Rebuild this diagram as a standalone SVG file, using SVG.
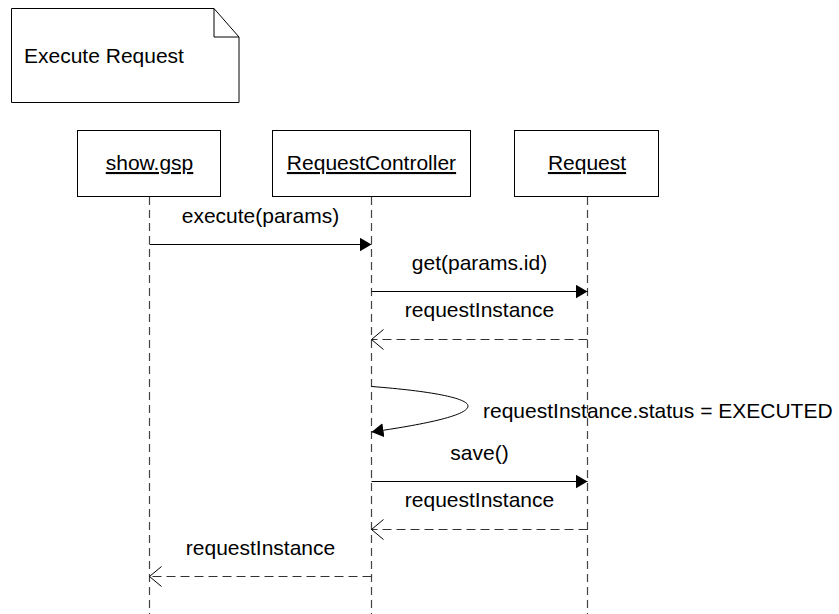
<svg xmlns="http://www.w3.org/2000/svg" width="839" height="614" viewBox="0 0 839 614">
<defs>
<style>
text{font-family:"Liberation Sans",Arial,sans-serif;font-size:21px;fill:#000}
.box{fill:#fff;stroke:#000;stroke-width:1}
.life{stroke:#444;stroke-width:1.2;stroke-dasharray:8,5;fill:none}
.msg{stroke:#000;stroke-width:1;fill:none}
.ret{stroke:#333;stroke-width:1;stroke-dasharray:9,5;fill:none}
.u{text-decoration:underline}
</style>
<marker id="filled" markerUnits="userSpaceOnUse" markerWidth="13" markerHeight="14" refX="12" refY="7" orient="auto" viewBox="0 0 13 14">
<path d="M0,0 L12,7 L0,14 z" fill="#000"/>
</marker>
<marker id="open" markerUnits="userSpaceOnUse" markerWidth="14" markerHeight="22" refX="13" refY="11" orient="auto" viewBox="0 0 14 22">
<path d="M1,1 L13,11 L1,21" fill="none" stroke="#000" stroke-width="1"/>
</marker>
</defs>
<rect width="839" height="614" fill="#fff"/>
<g id="note">
<path d="M11.5,8.5 H214 L239,37 V102.5 H11.5 Z" class="box"/>
<path d="M214,8.5 V37 H239" fill="none" stroke="#000"/>
<text x="24" y="63">Execute Request</text>
</g>
<g id="lifelines">
<line x1="149.5" y1="197" x2="149.5" y2="614" class="life"/>
<line x1="371.5" y1="197" x2="371.5" y2="614" class="life"/>
<line x1="587.5" y1="197" x2="587.5" y2="614" class="life"/>
</g>
<g id="show_gsp">
<rect x="77.5" y="130.5" width="143" height="66" class="box"/>
<text x="149.5" y="170" text-anchor="middle" class="u">show.gsp</text>
</g>
<g id="RequestController">
<rect x="272.5" y="130.5" width="198" height="66" class="box"/>
<text x="371.5" y="170" text-anchor="middle" class="u">RequestController</text>
</g>
<g id="Request">
<rect x="514.5" y="130.5" width="144" height="66" class="box"/>
<text x="587" y="170" text-anchor="middle" class="u">Request</text>
</g>
<g id="connectors">
<line x1="149.5" y1="244.5" x2="371.5" y2="244.5" class="msg" marker-end="url(#filled)"/>
<text x="260.5" y="223" text-anchor="middle">execute(params)</text>
<line x1="371.5" y1="291.5" x2="587.5" y2="291.5" class="msg" marker-end="url(#filled)"/>
<text x="479.5" y="270" text-anchor="middle">get(params.id)</text>
<line x1="587.5" y1="339.5" x2="371.5" y2="339.5" class="ret" marker-end="url(#open)"/>
<text x="479.5" y="317" text-anchor="middle">requestInstance</text>
<path d="M371.5,386.5 C430,391 468,398 468,406 C468,416 420,425 371.5,432" class="msg" marker-end="url(#filled)"/>
<text x="483" y="418">requestInstance.status = EXECUTED</text>
<line x1="371.5" y1="481.5" x2="587.5" y2="481.5" class="msg" marker-end="url(#filled)"/>
<text x="479.5" y="460" text-anchor="middle">save()</text>
<line x1="587.5" y1="529.5" x2="371.5" y2="529.5" class="ret" marker-end="url(#open)"/>
<text x="479.5" y="507" text-anchor="middle">requestInstance</text>
<line x1="371.5" y1="576.5" x2="149.5" y2="576.5" class="ret" marker-end="url(#open)"/>
<text x="260.5" y="555" text-anchor="middle">requestInstance</text>
</g>
</svg>
